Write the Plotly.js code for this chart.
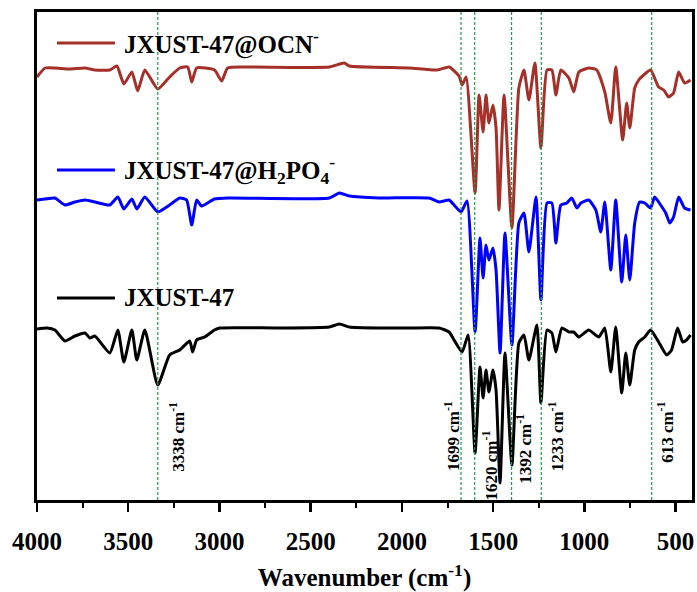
<!DOCTYPE html>
<html>
<head>
<meta charset="utf-8">
<script src="https://cdn.plot.ly/plotly-3.0.1.min.js"></script>
<style>html,body{margin:0;padding:0;background:#fff;}#chart{width:697px;height:592px;}</style>
</head>
<body>
<div id="chart"></div>
<script>
// ---- Data (wavenumber in cm^-1, offset transmittance in a.u.) ----
const seriesNames = ["JXUST-47", "JXUST-47@H<sub>2</sub>PO<sub>4</sub><sup>-</sup>", "JXUST-47@OCN<sup>-</sup>"];
const seriesColors = ["#000000", "#0000FF", "#A5302A"];

const waveBlack = [4000,3945,3902,3847,3792,3737,3710,3683,3601,3557,3524,3480,3453,3409,3338,3273,3218,3163,3147,3125,3081,3027,2999,2671,2398,2343,2288,2124,1960,1796,1741,1714,1670,1637,1599,1572,1555,1539,1523,1501,1484,1462,1435,1397,1359,1331,1304,1260,1238,1205,1178,1156,1123,1085,1058,1030,976,921,888,855,828,795,773,751,724,702,669,637,593,549,522,489,461,440,418];
const transBlack = [171,172,170,159,164,167,162,164,147,170,138,170,140,170,115,145,150,159,148,160,163,170,172,172,173,176,173,172,172,172,168,160,148,165,47,133,102,130,108,130,110,17,147,35,157,165,140,175,97,170,167,148,172,168,168,163,170,163,172,128,173,107,147,115,150,158,163,170,158,145,150,172,158,160,165];

const waveBlue = [4000,3956,3902,3847,3792,3737,3683,3601,3557,3524,3480,3453,3409,3338,3273,3218,3180,3152,3125,3098,3027,2944,2398,2343,2288,2124,1851,1796,1741,1714,1676,1643,1599,1572,1555,1539,1523,1501,1484,1462,1435,1397,1359,1331,1304,1265,1238,1205,1178,1156,1129,1096,1069,1041,1019,976,937,910,888,855,828,795,773,751,724,697,669,637,615,582,554,532,511,483,451,418];
const transBlue = [300,301,302,295,298,300,298,295,303,291,301,291,303,288,295,302,300,275,300,294,301,302,302,307,304,302,302,298,300,295,288,299,168,262,222,255,240,252,230,147,267,155,277,287,248,303,200,297,297,257,295,297,302,292,297,300,290,268,298,230,300,218,265,220,277,298,297,292,303,295,287,277,283,303,292,290];

const waveRed = [4000,3956,3902,3820,3737,3683,3601,3562,3524,3480,3448,3409,3338,3273,3218,3174,3152,3125,3027,2988,2955,2862,2398,2316,2288,1960,1807,1741,1687,1670,1648,1599,1577,1555,1539,1523,1501,1484,1468,1440,1397,1359,1331,1304,1271,1238,1205,1178,1156,1129,1085,1058,1030,976,932,888,855,828,790,768,751,724,702,675,637,593,565,538,511,483,451,418];
const transRed = [423,432,432,431,432,430,430,434,416,428,409,430,411,423,432,433,418,432,430,419,432,433,433,437,434,432,430,433,424,415,423,307,405,368,405,377,395,372,290,405,272,412,430,400,437,352,430,430,405,430,422,408,428,432,430,408,377,433,360,397,372,412,420,425,430,413,410,403,407,428,417,420];

// marked bands: where the guide lines sit on the axis, and their labels
const bandPositions = [3338, 1676, 1601, 1399, 1236, 631];
const bandLabels = ["3338", "1699", "1620", "1392", "1233", "613"];

const xTickVals = [4000, 3500, 3000, 2500, 2000, 1500, 1000, 500];
const xTitle = "Wavenumber (cm<sup>-1</sup>)";

// ---- Build ----
const FONT = "Liberation Serif, Times New Roman, serif";
const waves = [waveBlack, waveBlue, waveRed];
const trans = [transBlack, transBlue, transRed];

const traces = waves.map((w, i) => ({
  type: "scatter", mode: "lines", x: w, y: trans[i],
  name: seriesNames[i],
  line: {color: seriesColors[i], width: 3, shape: "spline", smoothing: 0.5},
  showlegend: false, hoverinfo: "skip"
}));

const shapes = [];
const annotations = [];

bandPositions.forEach(p => {
  shapes.push({type: "line", xref: "x", yref: "paper", x0: p, x1: p, y0: 0, y1: 1,
    line: {color: "#1E9E4A", width: 1.2, dash: "3px,2px"}, layer: "above"});
});

const labelShift = [19, -9, 15, 13, 15, 14];
const labelY = [0.129, 0.131, 0.07, 0.104, 0.131, 0.139];
bandPositions.forEach((p, i) => {
  annotations.push({xref: "x", yref: "paper", x: p, y: labelY[i], xshift: labelShift[i],
    text: bandLabels[i] + " cm<sup>-1</sup>", textangle: -90, showarrow: false,
    xanchor: "center", yanchor: "middle",
    font: {family: FONT, size: 17, color: "#000", weight: "bold"}});
});

// legend entries placed next to each spectrum
const legY = [0.414, 0.676, 0.9365];
for (let i = 0; i < 3; i++) {
  shapes.push({type: "line", xref: "paper", yref: "paper", x0: 0.0305, x1: 0.119, y0: legY[i], y1: legY[i],
    line: {color: seriesColors[i], width: 3}});
  annotations.push({xref: "paper", yref: "paper", x: 0.1298, y: legY[i], xanchor: "left", yanchor: "middle",
    text: seriesNames[i], showarrow: false,
    font: {family: FONT, size: 25, color: "#000", weight: "bold"}});
}

const layout = {
  width: 697, height: 592,
  margin: {l: 37, r: 5, t: 12, b: 92},
  paper_bgcolor: "#fff", plot_bgcolor: "#fff",
  showlegend: false,
  xaxis: {
    range: [4000, 410], tickvals: xTickVals, ticks: "outside", ticklen: 9, tickwidth: 2.5, tickcolor: "#000",
    ticklabelstandoff: 8,
    minor: {dtick: 250, tick0: 0, ticks: "outside", ticklen: 5, tickwidth: 2, tickcolor: "#000"},
    showline: true, mirror: true, linewidth: 3, linecolor: "#000",
    showgrid: false, zeroline: false,
    tickfont: {family: FONT, size: 25, color: "#000", weight: "bold"},
    title: {text: xTitle, font: {family: FONT, size: 25, color: "#000", weight: "bold"}, standoff: 22}
  },
  yaxis: {
    range: [0, 488], showticklabels: false, ticks: "", showgrid: false, zeroline: false,
    showline: true, mirror: true, linewidth: 3, linecolor: "#000"
  },
  shapes: shapes,
  annotations: annotations
};

Plotly.newPlot("chart", traces, layout, {staticPlot: true, displayModeBar: false});
</script>
</body>
</html>
